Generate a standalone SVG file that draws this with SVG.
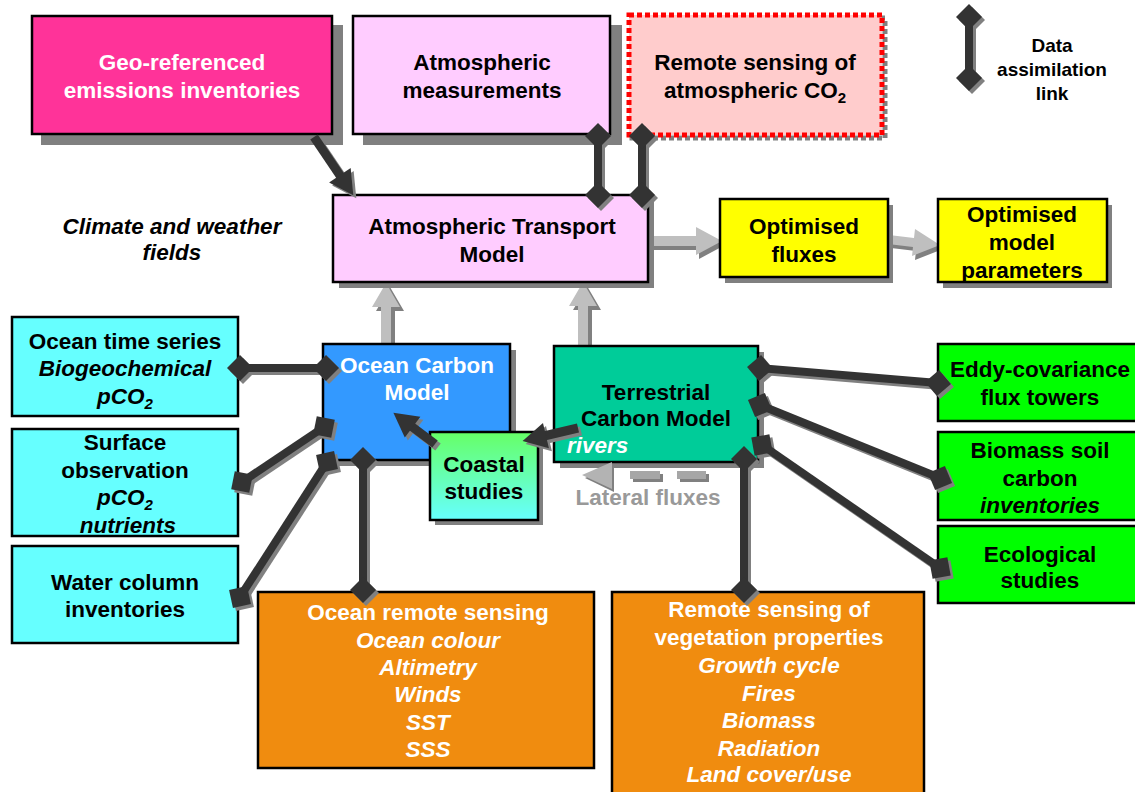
<svg xmlns="http://www.w3.org/2000/svg" xmlns:xlink="http://www.w3.org/1999/xlink" width="1135" height="792" viewBox="0 0 1135 792">
  <style>
    .box { stroke: #000; stroke-width: 2.5; }
    .sh { fill: #808080; }
    .t { font-family: "Liberation Sans", Arial, sans-serif; font-weight: bold; font-size: 22.5px; text-anchor: middle; fill: #000; }
    .w { fill: #fff; }
    .i { font-style: italic; }
    .sub { font-size: 15px; }
    .legend { font-size: 19px; }
    .lk { stroke: #333; stroke-width: 8; fill: none; marker-start: url(#dk); marker-end: url(#dk); }
    .lks { stroke: #808080; stroke-width: 8; fill: none; marker-start: url(#dg); marker-end: url(#dg); }
    .ar { stroke: #333; stroke-width: 9; fill: none; marker-end: url(#hk); }
    .ars { stroke: #808080; stroke-width: 9; fill: none; marker-end: url(#hg); }
    .ga { fill: #bfbfbf; }
    .gas { fill: #808080; }
  </style>
  <defs>
    <!-- diamond ends of data-assimilation links -->
    <marker id="dk" viewBox="-14 -14 28 28" markerWidth="28" markerHeight="28" markerUnits="userSpaceOnUse" orient="auto">
      <path d="M-13,0 L0,-13 L13,0 L0,13 Z" fill="#333"/>
    </marker>
    <marker id="dg" viewBox="-14 -14 28 28" markerWidth="28" markerHeight="28" markerUnits="userSpaceOnUse" orient="auto">
      <path d="M-13,0 L0,-13 L13,0 L0,13 Z" fill="#808080"/>
    </marker>
    <!-- dark flow arrowheads -->
    <marker id="hk" viewBox="-2 -15 30 30" markerWidth="30" markerHeight="30" refX="2" refY="0" markerUnits="userSpaceOnUse" orient="auto">
      <path d="M0,-13 L24,0 L0,13 Z" fill="#333"/>
    </marker>
    <marker id="hg" viewBox="-2 -15 30 30" markerWidth="30" markerHeight="30" refX="2" refY="0" markerUnits="userSpaceOnUse" orient="auto">
      <path d="M0,-13 L24,0 L0,13 Z" fill="#808080"/>
    </marker>
    <linearGradient id="coastal" x1="0" y1="0" x2="0" y2="1">
      <stop offset="0" stop-color="#66ff66"/>
      <stop offset="1" stop-color="#66ffff"/>
    </linearGradient>
    <!-- link geometry, drawn twice (shadow + line) -->
    <line id="l-legend" x1="969" y1="17" x2="969" y2="78"/>
    <line id="l-atmmeas" x1="598" y1="136" x2="598" y2="195"/>
    <line id="l-co2" x1="642" y1="136" x2="642" y2="195"/>
    <line id="l-ots" x1="240" y1="368" x2="326" y2="368"/>
    <line id="l-surf" x1="242" y1="482" x2="324" y2="427"/>
    <line id="l-water" x1="240" y1="597" x2="327" y2="462"/>
    <line id="l-ors" x1="363" y1="460" x2="363" y2="590"/>
    <line id="l-eddy" x1="760" y1="368" x2="938" y2="383"/>
    <line id="l-bio" x1="760" y1="405" x2="940" y2="478"/>
    <line id="l-eco" x1="762" y1="445" x2="940" y2="568"/>
    <line id="l-rsv" x1="744" y1="459" x2="744" y2="590"/>
    <line id="a-geo" x1="314" y1="137" x2="341" y2="177"/>
    <line id="a-coast" x1="435" y1="444" x2="411" y2="426"/>
    <line id="a-river" x1="578" y1="428" x2="544" y2="436"/>
  </defs>

  <rect width="1135" height="792" fill="#fff"/>

  <!-- free label -->
  <text class="t i" x="172" y="234">Climate and weather<tspan x="172" dy="26">fields</tspan></text>

  <!-- grey flow arrows (model outputs) -->
  <g id="flow-arrows">
    <path class="gas" transform="translate(4,4)" d="M386,283 L400,307 L391,307 L391,344 L381,344 L381,307 L372,307 Z"/>
    <path class="ga" d="M386,283 L400,307 L391,307 L391,344 L381,344 L381,307 L372,307 Z"/>
    <path class="gas" transform="translate(4,4)" d="M583,282 L597,306 L588,306 L588,346 L578,346 L578,306 L569,306 Z"/>
    <path class="ga" d="M583,282 L597,306 L588,306 L588,346 L578,346 L578,306 L569,306 Z"/>
    <path class="gas" transform="translate(3,4)" d="M722,241 L696,227 L696,236 L650,236 L650,246 L696,246 L696,255 Z"/>
    <path class="ga" d="M722,241 L696,227 L696,236 L650,236 L650,246 L696,246 L696,255 Z"/>
    <path class="gas" transform="translate(3,4)" d="M940,245 L915,229 L914,238 L889,235 L888,244 L913,247 L912,256 Z"/>
    <path class="ga" d="M940,245 L915,229 L914,238 L889,235 L888,244 L913,247 L912,256 Z"/>
  </g>

  <g id="geo-emissions">
    <rect class="sh" x="41" y="25" width="302" height="120"/>
    <rect class="box" x="32" y="16" width="300" height="118" fill="#ff3399"/>
    <text class="t w" x="182" y="70">Geo-referenced<tspan x="182" dy="28">emissions inventories</tspan></text>
  </g>

  <g id="atm-measurements">
    <rect class="sh" x="363" y="25" width="259" height="120"/>
    <rect class="box" x="353" y="16" width="257" height="118" fill="#ffccff"/>
    <text class="t" x="482" y="70">Atmospheric<tspan x="482" dy="28">measurements</tspan></text>
  </g>

  <g id="remote-co2">
    <rect x="632" y="18" width="253" height="120" fill="none" stroke="#808080" stroke-width="5" stroke-dasharray="5 3"/>
    <rect x="629" y="15" width="253" height="120" fill="#ffcccc" stroke="#ff0000" stroke-width="5" stroke-dasharray="5 3"/>
    <text class="t" x="755" y="70">Remote sensing of</text>
    <text class="t" x="755" y="98">atmospheric CO<tspan class="sub" dy="5">2</tspan></text>
  </g>

  <g id="legend">
    <text class="t legend" x="1052" y="52">Data</text>
    <text class="t legend" x="1052" y="76">assimilation</text>
    <text class="t legend" x="1052" y="100">link</text>
  </g>

  <g id="atm-transport">
    <rect class="sh" x="339" y="201" width="315" height="87"/>
    <rect class="box" x="333" y="195" width="315" height="87" fill="#ffccff"/>
    <text class="t" x="492" y="234">Atmospheric Transport<tspan x="492" dy="28">Model</tspan></text>
  </g>

  <g id="opt-fluxes">
    <rect class="sh" x="725" y="205" width="168" height="78"/>
    <rect class="box" x="720" y="199" width="168" height="78" fill="#ffff00"/>
    <text class="t" x="804" y="234">Optimised<tspan x="804" dy="28">fluxes</tspan></text>
  </g>

  <g id="opt-params">
    <rect class="sh" x="943" y="205" width="169" height="83"/>
    <rect class="box" x="938" y="199" width="169" height="83" fill="#ffff00"/>
    <text class="t" x="1022" y="222">Optimised<tspan x="1022" dy="28">model</tspan><tspan x="1022" dy="28">parameters</tspan></text>
  </g>

  <g id="ocean-time-series">
    <rect class="box" x="12" y="317" width="226" height="99" fill="#66ffff"/>
    <text class="t" x="125" y="349">Ocean time series</text>
    <text class="t i" x="125" y="376">Biogeochemical</text>
    <text class="t i" x="125" y="404">pCO<tspan class="sub" dy="5">2</tspan></text>
  </g>

  <g id="surface-obs">
    <rect class="box" x="12" y="429" width="226" height="107" fill="#66ffff"/>
    <text class="t" x="125" y="450">Surface</text>
    <text class="t" x="125" y="478">observation</text>
    <text class="t i" x="125" y="505">pCO<tspan class="sub" dy="5">2</tspan></text>
    <text class="t i" x="128" y="533">nutrients</text>
  </g>

  <g id="water-column">
    <rect class="box" x="12" y="546" width="226" height="97" fill="#66ffff"/>
    <text class="t" x="125" y="590">Water column<tspan x="125" dy="27">inventories</tspan></text>
  </g>

  <g id="ocean-model">
    <rect class="sh" x="329" y="350" width="187" height="116"/>
    <rect class="box" x="323" y="344" width="187" height="116" fill="#3399ff"/>
    <text class="t w" x="417" y="373">Ocean Carbon<tspan x="417" dy="27">Model</tspan></text>
  </g>

  <g id="terrestrial-model">
    <rect class="sh" x="560" y="352" width="204" height="116"/>
    <rect class="box" x="554" y="346" width="204" height="116" fill="#00cc99"/>
    <text class="t" x="656" y="400">Terrestrial<tspan x="656" dy="26">Carbon Model</tspan></text>
    <text class="t w i" x="567" y="453" style="text-anchor:start">rivers</text>
  </g>

  <g id="coastal-studies">
    <rect class="sh" x="435" y="437" width="108" height="88"/>
    <rect class="box" x="430" y="432" width="108" height="88" fill="url(#coastal)"/>
    <text class="t" x="484" y="472">Coastal<tspan x="484" dy="27">studies</tspan></text>
  </g>

  <g id="lateral-fluxes">
    <rect x="633" y="474" width="30" height="8" fill="#808080"/>
    <rect x="680" y="474" width="29" height="8" fill="#808080"/>
    <rect x="630" y="471" width="30" height="8" fill="#a6a6a6"/>
    <rect x="677" y="471" width="29" height="8" fill="#a6a6a6"/>
    <path d="M585,478 L614,465 L614,492 Z" fill="#808080"/>
    <path d="M582,475 L612,462 L612,489 Z" fill="#b3b3b3"/>
    <text class="t" x="648" y="505" style="fill:#999999">Lateral fluxes</text>
  </g>

  <g id="eddy-covariance">
    <rect class="box" x="938" y="344" width="200" height="77" fill="#00ff00"/>
    <text class="t" x="1040" y="377">Eddy-covariance<tspan x="1040" dy="28">flux towers</tspan></text>
  </g>

  <g id="biomass-soil">
    <rect class="box" x="938" y="432" width="200" height="88" fill="#00ff00"/>
    <text class="t" x="1040" y="458">Biomass soil<tspan x="1040" dy="28">carbon</tspan></text>
    <text class="t i" x="1040" y="513">inventories</text>
  </g>

  <g id="ecological">
    <rect class="box" x="938" y="526" width="200" height="77" fill="#00ff00"/>
    <text class="t" x="1040" y="562">Ecological<tspan x="1040" dy="26">studies</tspan></text>
  </g>

  <g id="ocean-remote-sensing">
    <rect class="box" x="258" y="592" width="336" height="176" fill="#f08c0f"/>
    <text class="t w" x="428" y="620">Ocean remote sensing</text>
    <text class="t w i" x="428" y="648">Ocean colour<tspan x="428" dy="27">Altimetry</tspan><tspan x="428" dy="27">Winds</tspan><tspan x="428" dy="28">SST</tspan><tspan x="428" dy="27">SSS</tspan></text>
  </g>

  <g id="vegetation-remote-sensing">
    <rect class="box" x="612" y="592" width="312" height="212" fill="#f08c0f"/>
    <text class="t w" x="769" y="617">Remote sensing of<tspan x="769" dy="28">vegetation properties</tspan></text>
    <text class="t w i" x="769" y="673">Growth cycle<tspan x="769" dy="28">Fires</tspan><tspan x="769" dy="27">Biomass</tspan><tspan x="769" dy="28">Radiation</tspan><tspan x="769" dy="26">Land cover/use</tspan></text>
  </g>

  <g id="connectors">
    <g transform="translate(3,3)">
      <use xlink:href="#l-legend" class="lks"/>
      <use xlink:href="#l-atmmeas" class="lks"/>
      <use xlink:href="#l-co2" class="lks"/>
      <use xlink:href="#l-ots" class="lks"/>
      <use xlink:href="#l-surf" class="lks"/>
      <use xlink:href="#l-water" class="lks"/>
      <use xlink:href="#l-ors" class="lks"/>
      <use xlink:href="#l-eddy" class="lks"/>
      <use xlink:href="#l-bio" class="lks"/>
      <use xlink:href="#l-eco" class="lks"/>
      <use xlink:href="#l-rsv" class="lks"/>
      <use xlink:href="#a-geo" class="ars"/>
      <use xlink:href="#a-coast" class="ars"/>
      <use xlink:href="#a-river" class="ars"/>
    </g>
    <use xlink:href="#l-legend" class="lk"/>
    <use xlink:href="#l-atmmeas" class="lk"/>
    <use xlink:href="#l-co2" class="lk"/>
    <use xlink:href="#l-ots" class="lk"/>
    <use xlink:href="#l-surf" class="lk"/>
    <use xlink:href="#l-water" class="lk"/>
    <use xlink:href="#l-ors" class="lk"/>
    <use xlink:href="#l-eddy" class="lk"/>
    <use xlink:href="#l-bio" class="lk"/>
    <use xlink:href="#l-eco" class="lk"/>
    <use xlink:href="#l-rsv" class="lk"/>
    <use xlink:href="#a-geo" class="ar"/>
    <use xlink:href="#a-coast" class="ar"/>
    <use xlink:href="#a-river" class="ar"/>
  </g>
</svg>
